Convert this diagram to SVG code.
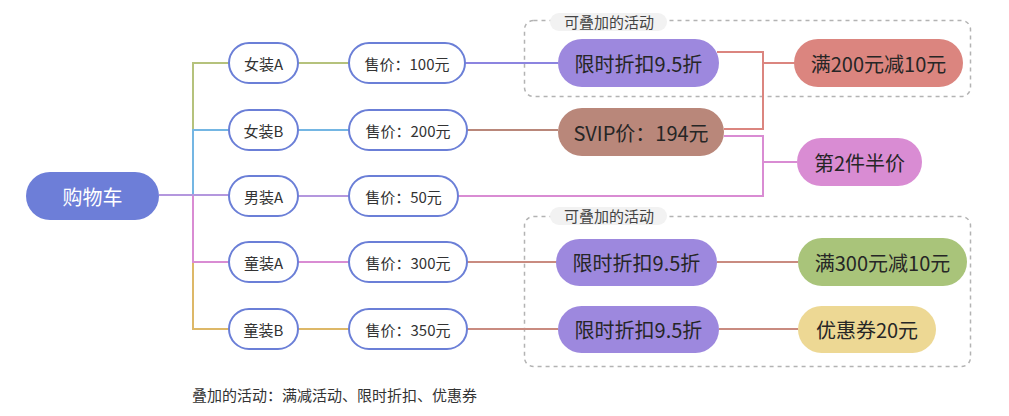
<svg xmlns="http://www.w3.org/2000/svg" width="1009" height="416" viewBox="0 0 1009 416">
<style>
text{font-family:"Noto Sans CJK SC","Noto Sans",sans-serif;dominant-baseline:central;text-anchor:middle}
.n1{fill:#fff;stroke:#6B7FD7;stroke-width:2}
.t1{font-size:15px;fill:#333}
.t3{font-size:20px;fill:#262626}
.c{fill:none;stroke-width:2}
.box{fill:none;stroke:#b3b3b3;stroke-width:1.5;stroke-dasharray:4 4}
.lbl{fill:#f2f2f2}
.tl{font-size:15px;fill:#444}
</style>
<rect width="1009" height="416" fill="#fff"/>
<g id="groups">
<rect class="box" x="524.5" y="20.5" width="446" height="76" rx="9"/>
<rect class="lbl" x="550" y="13" width="117" height="18" rx="9"/>
<text class="tl" x="609" y="21">可叠加的活动</text>
<rect class="box" x="524.5" y="216.5" width="446" height="150" rx="9"/>
<rect class="lbl" x="550" y="207" width="117" height="18" rx="9"/>
<text class="tl" x="609" y="215">可叠加的活动</text>
</g>
<g id="connectors">
<path class="c" stroke="#B5C27C" d="M159,195 H193 V63 H229"/>
<path class="c" stroke="#74B6E3" d="M159,195 H193 V130 H229"/>
<path class="c" stroke="#DDB868" d="M159,195 H193 V329 H229"/>
<path class="c" stroke="#D98CD3" d="M159,195 H193 V262 H229"/>
<path class="c" stroke="#B497DE" d="M159,195 H229"/>
<path class="c" stroke="#B5C27C" d="M298,63 H349"/>
<path class="c" stroke="#74B6E3" d="M298,130 H349"/>
<path class="c" stroke="#B497DE" d="M298,196 H349"/>
<path class="c" stroke="#D98CD3" d="M298,262 H349"/>
<path class="c" stroke="#DDB868" d="M298,329 H349"/>
<path class="c" stroke="#8C84E0" d="M465,63 H558"/>
<path class="c" stroke="#B9877A" d="M467,130 H558"/>
<path class="c" stroke="#D98CD3" d="M458,196 H763 V136 H724"/>
<path class="c" stroke="#D98CD3" d="M763,162 H797"/>
<path class="c" stroke="#DB857F" d="M717,52 H763 V129 H724"/>
<path class="c" stroke="#DB857F" d="M763,63 H795"/>
<path class="c" stroke="#C98B80" d="M467,262 H557"/>
<path class="c" stroke="#C98B80" d="M717,262 H798"/>
<path class="c" stroke="#C98B80" d="M467,329 H558"/>
<path class="c" stroke="#C98B80" d="M719,329 H798"/>
</g>
<g id="root"><rect x="26" y="172" width="133" height="48" rx="24" fill="#6D7ED8"/><text x="92.5" y="196" font-size="20" fill="#fff">购物车</text></g>
<g id="n-nza"><rect class="n1" x="229" y="43" width="69" height="40" rx="20"/><text class="t1" x="263.5" y="63">女装A</text></g>
<g id="n-nzb"><rect class="n1" x="229" y="110" width="69" height="40" rx="20"/><text class="t1" x="263.5" y="130">女装B</text></g>
<g id="n-mza"><rect class="n1" x="229" y="176" width="69" height="40" rx="20"/><text class="t1" x="263.5" y="196">男装A</text></g>
<g id="n-tza"><rect class="n1" x="229" y="242" width="69" height="40" rx="20"/><text class="t1" x="263.5" y="262">童装A</text></g>
<g id="n-tzb"><rect class="n1" x="229" y="309" width="69" height="40" rx="20"/><text class="t1" x="263.5" y="329">童装B</text></g>
<g id="p100"><rect class="n1" x="349" y="43" width="116" height="40" rx="20"/><text class="t1" x="407" y="63">售价：100元</text></g>
<g id="p200"><rect class="n1" x="349" y="110" width="118" height="40" rx="20"/><text class="t1" x="408" y="130">售价：200元</text></g>
<g id="p50"><rect class="n1" x="349" y="176" width="109" height="40" rx="20"/><text class="t1" x="403.5" y="196">售价：50元</text></g>
<g id="p300"><rect class="n1" x="349" y="242" width="118" height="40" rx="20"/><text class="t1" x="408" y="262">售价：300元</text></g>
<g id="p350"><rect class="n1" x="349" y="309" width="118" height="40" rx="20"/><text class="t1" x="408" y="329">售价：350元</text></g>
<g id="d1"><rect x="558" y="39" width="161" height="48" rx="24" fill="#9D88DE"/><text class="t3" x="638.5" y="63">限时折扣9.5折</text></g>
<g id="svip"><rect x="558" y="108" width="166" height="48" rx="24" fill="#B9877A"/><text class="t3" x="641" y="132">SVIP价：194元</text></g>
<g id="d4"><rect x="556" y="239" width="161" height="47" rx="23.5" fill="#9D88DE"/><text class="t3" x="636.5" y="262.5">限时折扣9.5折</text></g>
<g id="d5"><rect x="558" y="306" width="161" height="47" rx="23.5" fill="#9D88DE"/><text class="t3" x="638.5" y="329.5">限时折扣9.5折</text></g>
<g id="m200"><rect x="794" y="39" width="169" height="48" rx="24" fill="#DB857F"/><text class="t3" x="878.5" y="63">满200元减10元</text></g>
<g id="half"><rect x="797" y="138" width="125" height="48" rx="24" fill="#D98CD3"/><text class="t3" x="859.5" y="162">第2件半价</text></g>
<g id="m300"><rect x="798" y="238" width="169" height="48" rx="24" fill="#A9C47A"/><text class="t3" x="882.5" y="262">满300元减10元</text></g>
<g id="coupon"><rect x="798" y="306" width="138" height="47" rx="23.5" fill="#EDD894"/><text class="t3" x="867" y="329.5">优惠券20元</text></g>
<text x="192" y="394" font-size="15" fill="#333" style="text-anchor:start">叠加的活动：满减活动、限时折扣、优惠券</text>
</svg>
